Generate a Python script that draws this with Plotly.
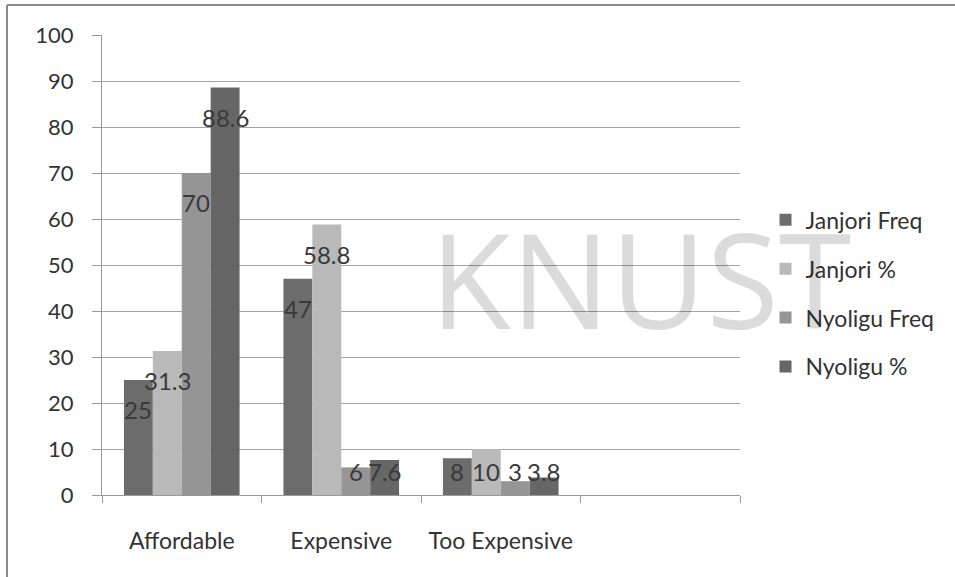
import plotly.graph_objects as go

categories = ["Affordable", "Expensive", "Too Expensive"]
series_names = ["Janjori Freq", "Janjori %", "Nyoligu Freq", "Nyoligu %"]
janjori_freq = [25, 47, 8]
janjori_pct = [31.3, 58.8, 10]
nyoligu_freq = [70, 6, 3]
nyoligu_pct = [88.6, 7.6, 3.8]
y_ticks = [0, 10, 20, 30, 40, 50, 60, 70, 80, 90, 100]

series = [janjori_freq, janjori_pct, nyoligu_freq, nyoligu_pct]
colors = ["#6c6c6c", "#b9b9b9", "#959595", "#666666"]

FONT = "Lato"
bargap = 0.275
n = len(series)
bw = (1 - bargap) / n
xs = list(range(len(categories)))

fig = go.Figure()
annotations = [dict(
    x=0.845, y=0.472, xref="paper", yref="paper", text="KNUST", showarrow=False,
    xanchor="center", yanchor="middle",
    font=dict(family="Open Sans", size=132, color="rgba(0,0,0,0.14)"),
)]
for k, (name, vals, col) in enumerate(zip(series_names, series, colors)):
    fig.add_trace(go.Bar(
        x=xs, y=vals, name=name, marker=dict(color=col, line=dict(width=0)),
        width=bw, offset=-(1 - bargap) / 2 + k * bw, legendgroup=f"g{k}",
    ))
    for i, v in enumerate(vals):
        cx = i - (1 - bargap) / 2 + (k + 0.5) * bw
        annotations.append(dict(
            x=cx, y=max(v - 6.5, 5.2), xref="x", yref="y", text=f"{v:g}",
            showarrow=False, font=dict(family=FONT, size=24, color="#3a3a3a"),
        ))

fig.update_layout(
    width=955, height=577,
    margin=dict(l=102, r=215, t=35, b=82),
    paper_bgcolor="white", plot_bgcolor="white",
    barmode="overlay",
    showlegend=True,
    legend=dict(x=1.04, xanchor="left", y=0.645, yanchor="top",
                font=dict(family=FONT, size=23, color="#333333"),
                tracegroupgap=16, traceorder="grouped", itemwidth=30),
    annotations=annotations,
    font=dict(family=FONT),
)

fig.update_xaxes(
    range=[-0.5, 3.5], tickvals=xs, ticktext=categories, ticks="",
    showgrid=False, showline=True, linecolor="#9a9a9a", linewidth=1,
    tickfont=dict(family=FONT, size=23, color="#333333"),
    ticklabelstandoff=25, zeroline=False,
    minor=dict(tickvals=[-0.5, 0.5, 1.5, 2.5, 3.5], ticks="outside",
               ticklen=7, tickcolor="#9a9a9a", showgrid=False),
)
fig.update_yaxes(
    range=[0, 100], tickvals=y_ticks, ticks="outside", ticklen=9,
    tickcolor="#9a9a9a", showgrid=True, gridcolor="#a3a3a3", gridwidth=1,
    showline=True, linecolor="#9a9a9a", linewidth=1, zeroline=False,
    tickfont=dict(family=FONT, size=22, color="#333333"),
    ticklabelstandoff=14,
)

# outer frame lines
fig.add_shape(type="line", xref="paper", yref="paper",
              x0=-0.1489, x1=-0.1489, y0=-0.2, y1=1.0652,
              line=dict(color="#888888", width=2))
fig.add_shape(type="line", xref="paper", yref="paper",
              x0=-0.1489, x1=1.34, y0=1.0652, y1=1.0652,
              line=dict(color="#888888", width=2))

fig.write_html("out.html")
